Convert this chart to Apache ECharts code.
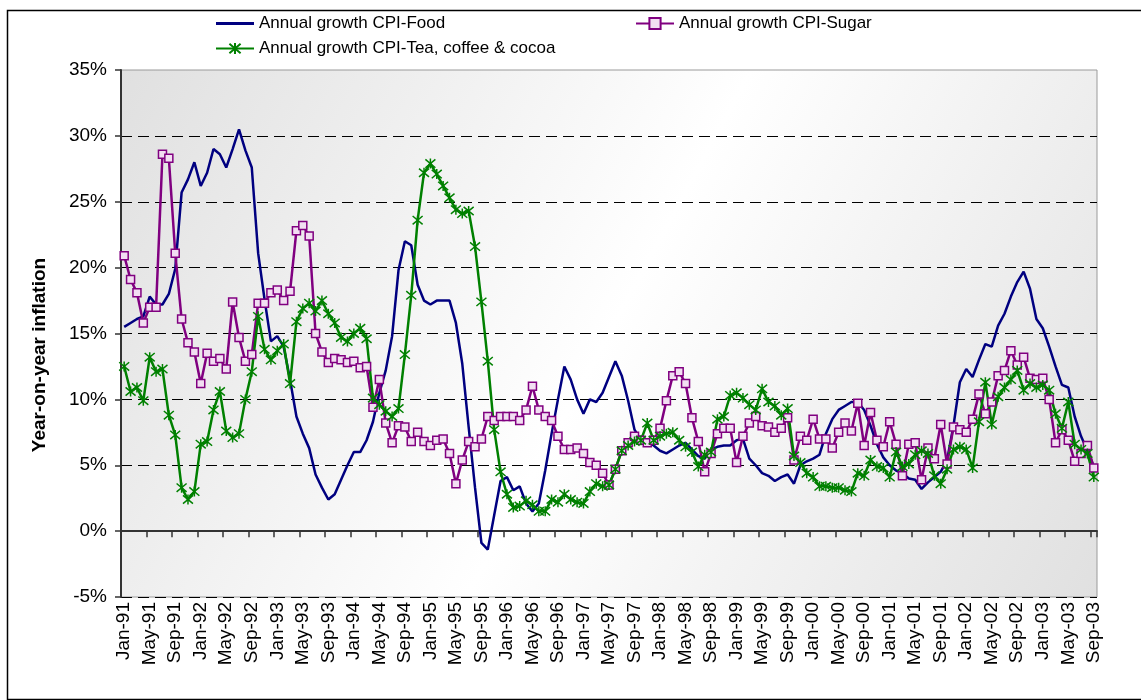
<!DOCTYPE html>
<html>
<head>
<meta charset="utf-8">
<script src="https://cdn.jsdelivr.net/npm/echarts@6/dist/echarts.min.js"></script>
<style>
html,body{margin:0;padding:0;background:#fff;}
#c{width:1141px;height:700px;}
</style>
</head>
<body>
<div id="c"></div>
<script>
// Categories: monthly, Jan-91 .. Sep-03
const monthNames = ['Jan','Feb','Mar','Apr','May','Jun','Jul','Aug','Sep','Oct','Nov','Dec'];
const firstYear = 1991, lastYear = 2003, lastMonth = 8;
const categories = [];
for (let y = firstYear; y <= lastYear; y++) {
  for (let m = 0; m < 12; m++) {
    if (y === lastYear && m > lastMonth) break;
    categories.push(monthNames[m] + '-' + String(y).slice(2));
  }
}

const seriesNames = ['Annual growth CPI-Food', 'Annual growth CPI-Sugar', 'Annual growth CPI-Tea, coffee & cocoa'];

const food = [
15.5,15.8,16.1,16.3,17.8,17.2,17.2,18.0,19.9,25.7,26.7,28.0,
26.2,27.2,29.0,28.6,27.6,29.0,30.5,28.9,27.6,21.1,17.6,14.4,
14.8,14.0,11.5,8.7,7.4,6.3,4.3,3.3,2.4,2.8,3.9,5.0,
6.0,6.0,6.9,8.3,10.5,12.2,14.8,19.8,22.0,21.7,18.7,17.5,
17.2,17.5,17.5,17.5,15.8,12.7,7.9,3.3,-0.9,-1.4,1.2,3.8,
4.1,3.1,3.4,2.1,1.5,2.1,4.6,7.4,10.0,12.5,11.5,10.0,
8.9,10.0,9.8,10.5,11.7,12.9,11.8,9.9,7.7,6.9,6.8,6.5,
6.1,5.9,6.2,6.5,6.7,6.2,5.7,5.5,6.2,6.4,6.5,6.5,
6.9,7.0,5.5,5.0,4.4,4.2,3.8,4.1,4.3,3.6,5.0,5.3,
5.5,5.8,7.4,8.5,9.2,9.5,9.8,9.8,9.2,8.0,6.6,5.6,
5.0,4.6,4.4,4.0,3.9,3.2,3.7,4.1,4.5,5.4,8.0,11.3,
12.3,11.7,13.0,14.2,14.0,15.6,16.5,17.8,18.9,19.7,18.4,16.1,
15.4,14.0,12.5,11.1,10.9,8.7,7.2,6.1,4.9
];

const sugar = [
20.9,19.1,18.1,15.8,17.0,17.0,28.6,28.3,21.1,16.1,14.3,13.6,
11.2,13.5,12.9,13.1,12.3,17.4,14.7,12.9,13.4,17.3,17.3,18.1,
18.3,17.5,18.2,22.8,23.2,22.4,15.0,13.6,12.8,13.1,13.0,12.8,
12.9,12.4,12.5,9.4,11.5,8.2,6.7,8.0,7.9,6.8,7.5,6.8,
6.5,6.9,7.0,5.9,3.6,5.4,6.8,6.4,7.0,8.7,8.4,8.7,
8.7,8.7,8.4,9.2,11.0,9.2,8.7,8.4,7.2,6.2,6.2,6.3,
5.9,5.2,5.0,4.4,3.5,4.7,6.1,6.7,7.2,6.9,6.7,6.9,
7.8,9.9,11.8,12.1,11.2,8.6,6.8,4.5,5.9,7.4,7.8,7.8,
5.2,7.2,8.2,8.7,8.0,7.9,7.5,7.8,8.6,5.4,7.2,6.9,
8.5,7.0,7.0,6.3,7.5,8.2,7.6,9.7,6.5,9.0,6.9,6.4,
8.3,6.6,4.2,6.6,6.7,3.9,6.3,5.5,8.1,5.1,7.9,7.7,
7.5,8.5,10.4,8.9,9.8,11.8,12.2,13.7,12.6,13.2,11.6,11.5,
11.6,10.0,6.7,7.7,6.9,5.3,5.9,6.5,4.8
];

const tea = [
12.5,10.6,10.9,9.9,13.2,12.1,12.3,8.8,7.3,3.3,2.4,3.0,
6.6,6.8,9.2,10.6,7.6,7.1,7.4,10.0,12.1,16.3,13.8,13.0,
13.7,14.2,11.2,15.9,16.9,17.3,16.7,17.5,16.5,15.8,14.7,14.4,
15.0,15.4,14.6,10.1,9.6,9.1,8.7,9.3,13.4,17.9,23.6,27.2,
27.9,27.1,26.2,25.3,24.4,24.1,24.3,21.6,17.4,12.9,7.7,4.5,
2.8,1.8,1.9,2.3,2.0,1.5,1.5,2.4,2.2,2.8,2.4,2.2,
2.1,3.0,3.6,3.4,3.5,4.7,6.1,6.5,6.8,6.9,8.2,6.9,
7.2,7.4,7.5,6.9,6.4,6.0,4.9,5.8,6.0,8.5,8.7,10.3,
10.5,10.1,9.6,9.2,10.8,9.8,9.5,8.8,9.3,5.7,5.2,4.4,
4.1,3.4,3.4,3.3,3.3,3.1,3.0,4.4,4.2,5.4,4.9,4.8,
4.1,6.0,4.9,5.1,5.8,6.1,5.9,4.2,3.6,4.7,6.2,6.4,
6.2,4.8,8.3,11.3,8.1,10.2,10.9,11.5,12.2,10.7,11.2,10.9,
11.1,10.7,8.9,7.8,9.8,6.6,6.2,5.9,4.1
];

const yMin = -5, yMax = 35, yStep = 5;

const starPath = 'path://M0 0L10 10M10 0L0 10M5 -1L5 11';
const lineIcon = 'path://M0 0H40V3H0Z';
const FONT = 'Liberation Sans, Arial, sans-serif';

const chart = echarts.init(document.getElementById('c'), null, {renderer: 'canvas'});
chart.setOption({
  animation: false,
  backgroundColor: '#ffffff',
  textStyle: {fontFamily: FONT},
  grid: {
    left: 121, right: 44, top: 70, bottom: 103,
    show: true,
    borderColor: '#9a9a9a', borderWidth: 1,
    backgroundColor: {
      type: 'linear', x: 0, y: 0, x2: 1, y2: 1,
      colorStops: [
        {offset: 0, color: '#e0e0e0'},
        {offset: 0.5, color: '#ffffff'},
        {offset: 1, color: '#e0e0e0'}
      ]
    }
  },
  legend: [
    {
      data: [{name: seriesNames[0], icon: lineIcon}, seriesNames[2]],
      orient: 'vertical', left: 215, top: 15, padding: 0,
      itemWidth: 38, itemHeight: 14, itemGap: 8,
      textStyle: {fontSize: 17, color: '#000', fontFamily: FONT, lineHeight: 17}
    },
    {
      data: [seriesNames[1]],
      orient: 'vertical', left: 635, top: 15, padding: 0,
      itemWidth: 38, itemHeight: 14, itemGap: 8,
      textStyle: {fontSize: 17, color: '#000', fontFamily: FONT, lineHeight: 17}
    }
  ],
  xAxis: {
    type: 'category',
    data: categories,
    boundaryGap: true,
    axisLine: {lineStyle: {color: '#333', width: 2}},
    axisTick: {show: true, interval: 3, length: 6, lineStyle: {color: '#333', width: 1.5}},
    axisLabel: {interval: 3, rotate: 90, fontSize: 19, color: '#000', fontFamily: FONT, margin: 5},
    splitLine: {show: false}
  },
  yAxis: {
    type: 'value',
    min: yMin, max: yMax, interval: yStep,
    axisLine: {show: true, lineStyle: {color: '#333', width: 2}},
    axisTick: {show: true, length: 6, lineStyle: {color: '#333', width: 1.5}},
    axisLabel: {formatter: '{value}%', fontSize: 19, color: '#000', fontFamily: FONT, margin: 14},
    splitLine: {show: true, showMaxLine: false, lineStyle: {color: '#000', width: 1, type: [11, 6]}}
  },
  graphic: [
    {
      type: 'rect', left: 5, top: 8,
      shape: {width: 1140, height: 689},
      style: {fill: 'none', stroke: '#000', lineWidth: 1.5},
      silent: true
    },
    {
      type: 'text', x: 40, y: 355, rotation: Math.PI / 2,
      style: {
        text: 'Year-on-year inflation',
        font: 'bold 19px ' + FONT,
        fill: '#000', textAlign: 'center', textVerticalAlign: 'middle'
      }
    }
  ],
  series: [
    {
      name: seriesNames[0], type: 'line', data: food,
      symbol: 'none', smooth: false,
      lineStyle: {color: '#000080', width: 2.5},
      itemStyle: {color: '#000080'}
    },
    {
      name: seriesNames[1], type: 'line', data: sugar,
      symbol: 'rect', symbolSize: 8, showAllSymbol: true,
      lineStyle: {color: '#800080', width: 2.5},
      itemStyle: {color: '#f2def2', borderColor: '#800080', borderWidth: 1.5}
    },
    {
      name: seriesNames[2], type: 'line', data: tea,
      symbol: starPath, symbolSize: 10, showAllSymbol: true,
      lineStyle: {color: '#008000', width: 2.5},
      itemStyle: {color: '#008000', borderColor: '#008000', borderWidth: 1.5}
    }
  ]
});
</script>
</body>
</html>
